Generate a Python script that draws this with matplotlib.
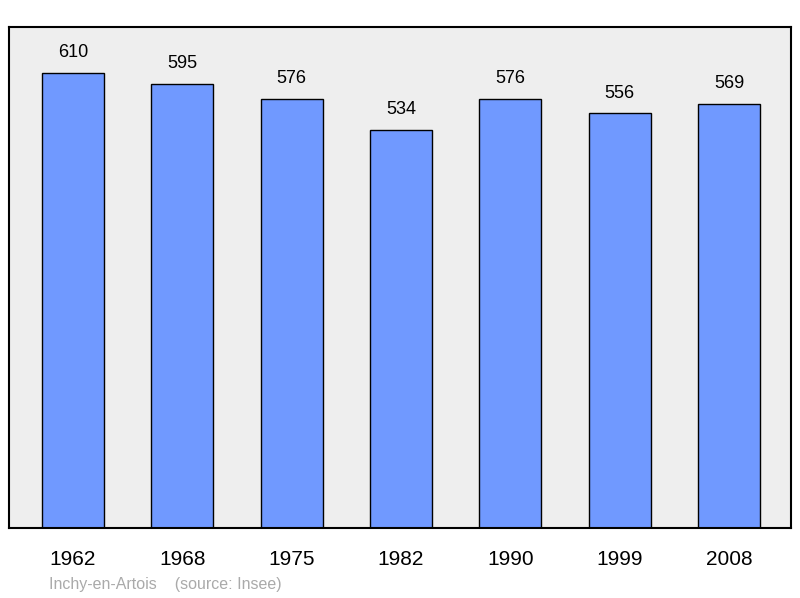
import matplotlib
matplotlib.use('Agg')
import matplotlib.pyplot as plt

years = ['1962', '1968', '1975', '1982', '1990', '1999', '2008']
population = [610, 595, 576, 534, 576, 556, 569]

fig = plt.figure(figsize=(8, 5.98), dpi=100)
ax = fig.add_axes([9/800, 1 - 528/598, 782/800, 501/598])
ax.set_facecolor('#eeeeee')

x = list(range(len(years)))
ax.bar(x, population, width=0.567, color='#7099ff', edgecolor='black', linewidth=1)
for xi, v in zip(x, population):
    ax.text(xi, v + 16, str(v), ha='center', va='bottom', fontsize=13,
            family='Liberation Sans')

ax.set_xlim(-0.585, 6.567)
ax.set_ylim(0, 672)
ax.set_yticks([])
ax.set_xticks(x)
ax.set_xticklabels(years, fontsize=15, family='Liberation Sans')
ax.tick_params(axis='x', length=0, pad=16)
for s in ax.spines.values():
    s.set_linewidth(1.5)

fig.text(49/800, 1 - 584/598, 'Inchy-en-Artois    (source: Insee)', color='#aaaaaa',
         fontsize=11.5, family='Liberation Sans', va='center')

fig.savefig('out.png', dpi=100)
